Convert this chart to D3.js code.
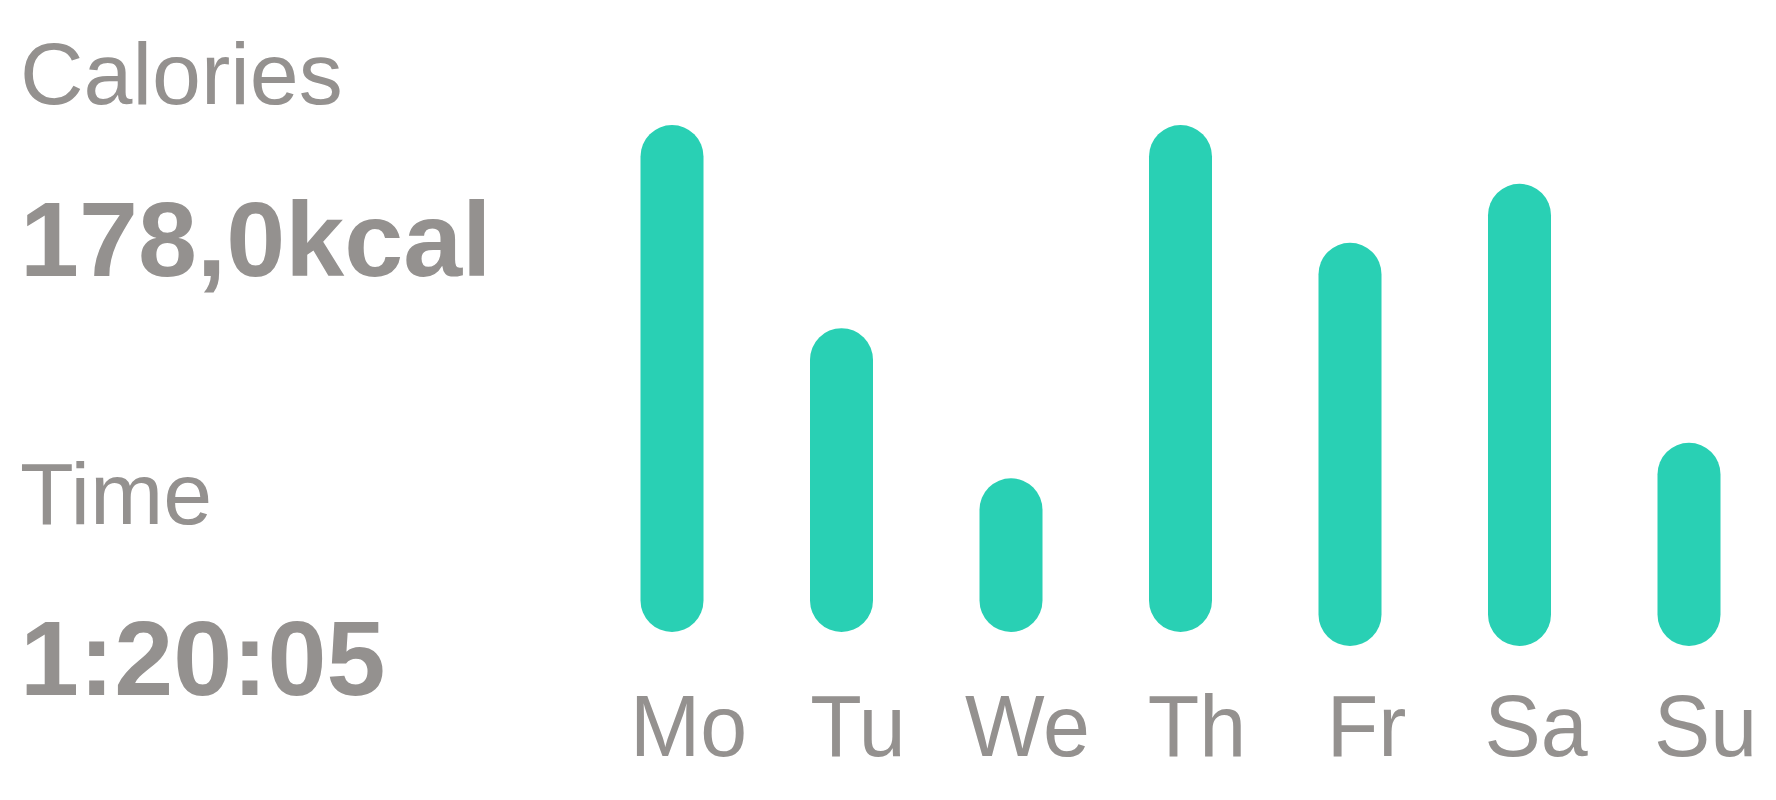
<!DOCTYPE html>
<html>
<head>
<meta charset="utf-8">
<script src="https://cdn.jsdelivr.net/npm/d3@7"></script>
<style>
  html, body { margin: 0; padding: 0; background: #ffffff; }
  svg { display: block; }
  text { font-family: "Liberation Sans", Arial, Helvetica, sans-serif; fill: #94918f; }
</style>
</head>
<body>
<svg id="chart" width="1776" height="800"></svg>
<script>
// ---- data ----
const days = ["Mo", "Tu", "We", "Th", "Fr", "Sa", "Su"];
const barStart = [2.7, 2.7, 2.7, 2.7, 0, 0, 0];
const barEnd = [100, 61.0, 32.2, 100, 77.4, 88.7, 39.0];
const statLabels = ["Calories", "Time"];
const statValues = ["178,0kcal", "1:20:05"];

// ---- layout ----
const barColor = "#29d0b4";
const barW = 63;

const svg = d3.select("#chart");

const x = d3.scalePoint()
  .domain(days)
  .range([672, 672 + 6 * 169.5]);

const y = d3.scaleLinear()
  .domain([0, 100])
  .range([646, 125]);

const data = days.map((d, i) => ({ day: d, start: barStart[i], end: barEnd[i] }));

// bars (rounded, pill shaped)
svg.append("g").selectAll("rect")
  .data(data)
  .join("rect")
  .attr("x", d => x(d.day) - barW / 2)
  .attr("width", barW)
  .attr("y", d => y(d.end))
  .attr("height", d => y(d.start) - y(d.end))
  .attr("rx", barW / 2)
  .attr("ry", barW / 2)
  .attr("fill", barColor);

// x axis labels via d3 axis
const axis = d3.axisBottom(x).tickSize(0).tickPadding(0);
const gx = svg.append("g").call(axis);
gx.select(".domain").remove();
gx.selectAll(".tick text")
  .attr("y", 0)
  .attr("dy", 0)
  .attr("text-anchor", "middle")
  .attr("font-size", 87)
  .attr("fill", "#94918f")
  .style("font-family", "'Liberation Sans', Arial, sans-serif")
  .attr("transform", "translate(16,756) scale(0.97,1)");

// left stats
const statY = [[104, 276], [524, 695]];
const stats = svg.append("g");
statLabels.forEach((lab, i) => {
  stats.append("text")
    .attr("x", 20)
    .attr("y", statY[i][0])
    .attr("font-size", 88)
    .text(lab);
  stats.append("text")
    .attr("x", 20)
    .attr("y", statY[i][1])
    .attr("font-size", 106)
    .attr("font-weight", "bold")
    .text(statValues[i]);
});
</script>
</body>
</html>
